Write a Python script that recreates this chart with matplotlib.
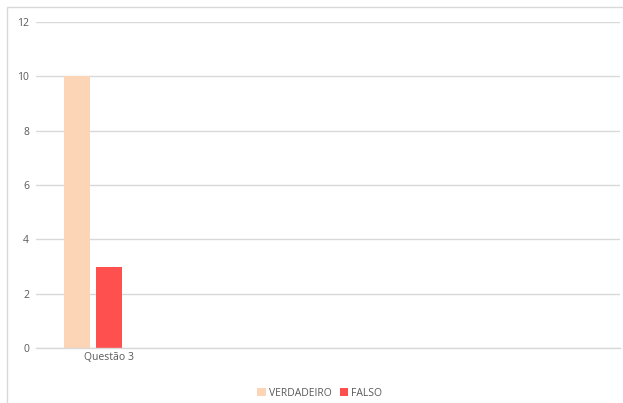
import numpy as np
import matplotlib.pyplot as plt
from matplotlib.patches import Rectangle

# chart values
categories = ['Questão 3', '', '', '']
verdadeiro = [10, np.nan, np.nan, np.nan]
falso = [3, np.nan, np.nan, np.nan]
yticks = [0, 2, 4, 6, 8, 10, 12]

plt.rcParams['font.family'] = ['Open Sans', 'DejaVu Sans']
txt = '#595959'
grid = '#D9D9D9'

fig = plt.figure(figsize=(6.23, 4.03), dpi=100)
ax = fig.add_axes([36/623, 1-348/403, 584/623, 326/403])

x = np.arange(len(categories))
w = 26/146  # bar width in category units
step = 32/146
ax.bar(x - step, verdadeiro, w, color='#FBD5B5', label='VERDADEIRO')
ax.bar(x, falso, w, color='#FF5050', label='FALSO')

ax.set_xlim(-0.5, len(categories) - 0.5)
ax.set_ylim(0, 12)
ax.set_yticks(yticks)
ax.set_xticks(x)
ax.set_xticklabels(categories)
ax.tick_params(axis='both', length=0, colors=txt, labelsize=7.5)
ax.tick_params(axis='y', pad=5)
ax.tick_params(axis='x', pad=3)
ax.yaxis.grid(True, color=grid, linewidth=1)
ax.set_axisbelow(True)
for s in ['top', 'right', 'left']:
    ax.spines[s].set_visible(False)
ax.spines['bottom'].set_color(grid)
ax.spines['bottom'].set_linewidth(1)

fig.legend(loc='center', bbox_to_anchor=(320/623, 1-393/403), ncol=2, frameon=False,
           fontsize=7.5, labelcolor=txt, handlelength=0.8, handleheight=0.8,
           handletextpad=0.3, columnspacing=0.8)

# chart border
fig.patches.append(Rectangle((7/623, -0.05), 1.1, 1-7/403+0.05, transform=fig.transFigure,
                             fill=False, edgecolor=grid, linewidth=1))

fig.savefig('out.png', dpi=100)
